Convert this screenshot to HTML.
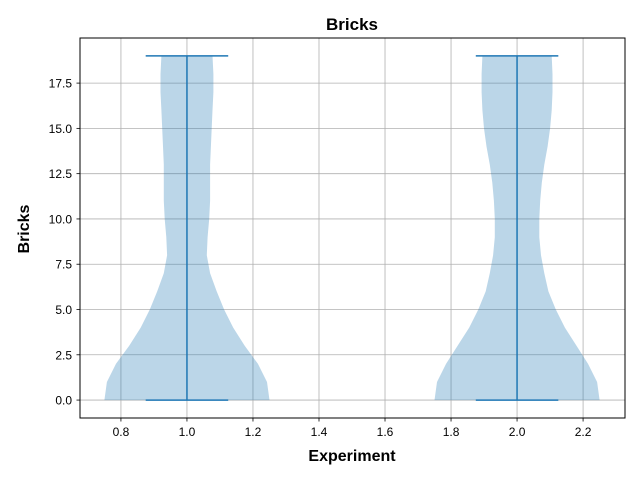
<!DOCTYPE html>
<html><head><meta charset="utf-8"><style>
body{margin:0;background:#fff;}
svg{display:block;font-family:"Liberation Sans","DejaVu Sans",sans-serif;}
</style></head><body>
<svg id="chart" width="640" height="480" viewBox="0 0 640 480">
<rect x="0" y="0" width="640" height="480" fill="#fff"/>
<g id="grid"></g>
<g id="violins"></g>
<g id="ticks"></g>
<rect x="80" y="38" width="545" height="380" fill="none" stroke="#000" stroke-width="1"/>
<text x="352" y="30" text-anchor="middle" font-size="17" font-weight="bold">Bricks</text>
<text x="352" y="461" text-anchor="middle" font-size="16" font-weight="bold">Experiment</text>
<text x="29" y="229" text-anchor="middle" font-size="16" font-weight="bold" transform="rotate(-90 29 229)">Bricks</text>
</svg>
<script>
const positions = [1, 2];
const yLevels = [0,1,2,3,4,5,6,7,8,9,10,11,12,13,14,15,16,17,18,19];
const violin1 = [1.0,0.97,0.86,0.7,0.56,0.45,0.36,0.28,0.24,0.25,0.27,0.28,0.28,0.28,0.29,0.30,0.31,0.32,0.32,0.31];
const violin2 = [1.0,0.97,0.86,0.72,0.58,0.47,0.38,0.33,0.29,0.27,0.27,0.28,0.30,0.33,0.37,0.40,0.42,0.43,0.43,0.42];
const mins = [0, 0];
const maxs = [19, 19];
const xTicks = [0.8,1.0,1.2,1.4,1.6,1.8,2.0,2.2];
const yTicks = [0,2.5,5,7.5,10,12.5,15,17.5];

const NS = "http://www.w3.org/2000/svg";
const X = v => 80 + (v - 0.676) / (2.327 - 0.676) * 545;
const Y = v => 418 - (v + 0.99) / (19.99 + 0.99) * 380;
function mk(parent, tag, attrs){const e=document.createElementNS(NS,tag);for(const k in attrs)e.setAttribute(k,attrs[k]);parent.appendChild(e);return e;}
const grid=document.getElementById('grid'), vg=document.getElementById('violins'), tg=document.getElementById('ticks');
xTicks.forEach(t=>{
  const l=mk(grid,'line',{x1:X(t),x2:X(t),y1:38,y2:418,stroke:'#b0b0b0','stroke-width':0.8});
  
  
  const tk=mk(tg,'line',{x1:X(t),x2:X(t),y1:418,y2:421.5,stroke:'#000','stroke-width':0.8});
  
  
  const tx=mk(tg,'text',{x:X(t),y:436,'text-anchor':'middle','font-size':12});
  tx.textContent=t.toFixed(1);
  
  
});
yTicks.forEach(t=>{
  const l=mk(grid,'line',{x1:80,x2:625,y1:Y(t),y2:Y(t),stroke:'#b0b0b0','stroke-width':0.8});
  
  
  const tk=mk(tg,'line',{x1:76.5,x2:80,y1:Y(t),y2:Y(t),stroke:'#000','stroke-width':0.8});
  
  
  const tx=mk(tg,'text',{x:72,y:Y(t)+4.5,'text-anchor':'end','font-size':12});
  tx.textContent=t.toFixed(1);
  
  
});
[violin1, violin2].forEach((dens,i)=>{
  const p=positions[i], hw=0.25;
  const right=yLevels.map((y,j)=>[X(p+dens[j]*hw),Y(y)]);
  const left=yLevels.map((y,j)=>[X(p-dens[j]*hw),Y(y)]).reverse();
  const pts=right.concat(left).map(q=>q[0].toFixed(1)+','+q[1].toFixed(1)).join(' ');
  const body=mk(vg,'polygon',{points:pts,fill:'#1f77b4','fill-opacity':0.3,stroke:'none'});
  
  
  const c=mk(vg,'line',{x1:X(p),x2:X(p),y1:Y(mins[i]),y2:Y(maxs[i]),stroke:'#1f77b4','stroke-width':1.5});
  
  
  const a=mk(vg,'line',{x1:X(p-0.125),x2:X(p+0.125),y1:Y(maxs[i]),y2:Y(maxs[i]),stroke:'#1f77b4','stroke-width':1.5});
  
  
  const b=mk(vg,'line',{x1:X(p-0.125),x2:X(p+0.125),y1:Y(mins[i]),y2:Y(mins[i]),stroke:'#1f77b4','stroke-width':1.5});
  
  
});
</script>
</body></html>
